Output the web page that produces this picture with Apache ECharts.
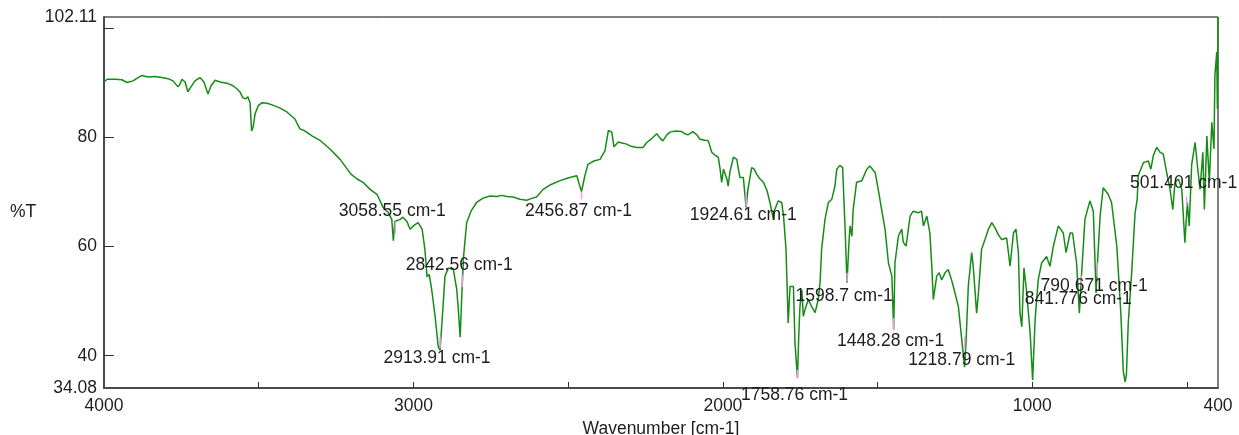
<!DOCTYPE html>
<html>
<head>
<meta charset="utf-8">
<title>IR spectrum</title>
<script src="https://cdn.jsdelivr.net/npm/echarts@6/dist/echarts.min.js"></script>
<style>
  html, body { margin: 0; padding: 0; background: #ffffff; }
  #chart { width: 1239px; height: 435px; }
</style>
</head>
<body>
<div id="chart"></div>
<script>
// Spectrum trace: wavenumber (cm-1) and transmittance (%T)
const wavenumbers = [
  4000, 3990, 3964, 3942, 3926, 3906, 3890, 3877, 3858, 3835, 3813, 3793, 3777, 3761, 3754, 3748,
  3738, 3729, 3719, 3706, 3690, 3677, 3664, 3654, 3641, 3625, 3599, 3583, 3570, 3560, 3551, 3541,
  3535, 3528, 3523, 3518, 3512, 3502, 3489, 3473, 3457, 3431, 3409, 3383, 3367, 3350, 3328, 3302,
  3270, 3237, 3202, 3182, 3163, 3140, 3118, 3098, 3082, 3070, 3065, 3060, 3043, 3034, 3021, 3011,
  2998, 2985, 2972, 2963, 2956, 2949, 2941, 2930, 2920, 2914, 2908, 2898, 2887, 2871, 2860, 2855,
  2849, 2843, 2838, 2828, 2814, 2796, 2775, 2753, 2730, 2715, 2698, 2678, 2656, 2634, 2620, 2602,
  2581, 2559, 2526, 2501, 2472, 2465, 2457, 2452, 2446, 2436, 2417, 2397, 2381, 2370, 2359, 2352,
  2338, 2326, 2311, 2297, 2279, 2258, 2246, 2232, 2214, 2203, 2194, 2181, 2171, 2152, 2133, 2122,
  2113, 2097, 2084, 2074, 2058, 2047, 2036, 2026, 2015, 2009, 2004, 1998, 1993, 1987, 1983, 1977,
  1966, 1955, 1951, 1945, 1934, 1925, 1919, 1907, 1899, 1891, 1880, 1869, 1857, 1848, 1837, 1832,
  1821, 1810, 1804, 1796, 1789, 1783, 1772, 1767, 1759, 1755, 1751, 1745, 1740, 1735, 1724, 1713,
  1702, 1692, 1686, 1681, 1670, 1659, 1648, 1638, 1632, 1622, 1613, 1609, 1605, 1599, 1592, 1589,
  1583, 1579, 1568, 1551, 1535, 1525, 1508, 1498, 1487, 1476, 1465, 1454, 1448, 1444, 1433, 1422,
  1417, 1408, 1395, 1385, 1369, 1358, 1352, 1341, 1331, 1325, 1320, 1309, 1301, 1293, 1282, 1272,
  1261, 1250, 1239, 1228, 1219, 1214, 1207, 1196, 1191, 1180, 1175, 1164, 1153, 1142, 1131, 1121,
  1110, 1099, 1094, 1083, 1072, 1061, 1053, 1045, 1040, 1034, 1027, 1018, 1007, 999, 991, 981,
  970, 954, 943, 932, 916, 900, 891, 878, 870, 857, 848, 842, 830, 814, 803, 794,
  790, 781, 771, 755, 744, 727, 714, 706, 700, 696, 690, 679, 668, 661, 658, 641,
  625, 617, 609, 598, 587, 577, 566, 555, 546, 539, 528, 517, 507, 499, 493, 485,
  474, 467, 458, 449, 444, 436, 428, 420, 413, 410, 404, 402, 400
];
const transmittance = [
  90.2, 90.7, 90.7, 90.6, 90.1, 90.4, 91.0, 91.4, 91.1, 91.2, 91.0, 90.8, 90.4, 89.3, 89.9, 90.7,
  90.2, 88.4, 89.3, 90.4, 91.0, 90.2, 88.0, 89.5, 90.5, 90.2, 89.9, 89.5, 88.9, 88.3, 87.3, 87.1,
  87.5, 86.4, 81.2, 81.9, 84.3, 85.8, 86.4, 86.3, 86.0, 85.4, 84.7, 83.4, 81.6, 81.2, 80.3, 79.5,
  77.9, 76.0, 73.3, 72.4, 71.8, 70.5, 69.6, 67.2, 66.3, 65.0, 61.1, 64.6, 65.0, 65.4, 64.6, 63.2,
  63.9, 64.4, 63.2, 59.5, 54.5, 54.9, 52.1, 47.2, 41.7, 41.0, 46.0, 54.6, 56.1, 55.8, 52.1, 48.4,
  43.4, 52.0, 58.2, 64.4, 66.5, 68.1, 68.9, 69.3, 69.2, 69.4, 69.2, 69.1, 68.7, 68.5, 68.8, 69.1,
  70.5, 71.3, 72.1, 72.6, 73.0, 71.6, 70.1, 71.4, 73.0, 75.1, 75.7, 76.0, 77.6, 81.3, 81.0, 78.3,
  79.2, 79.0, 78.8, 78.4, 78.2, 78.2, 79.1, 79.7, 80.7, 79.9, 79.4, 80.5, 81.0, 81.2, 81.1, 80.7,
  80.5, 81.1, 80.5, 79.7, 79.5, 79.4, 77.3, 76.8, 76.4, 74.2, 71.8, 74.2, 74.5, 72.4, 71.1, 73.8,
  76.4, 76.0, 74.6, 72.7, 72.7, 67.2, 70.5, 74.5, 74.2, 73.3, 72.4, 71.8, 70.2, 68.1, 65.0, 66.8,
  68.4, 68.1, 65.6, 59.5, 46.0, 52.7, 52.7, 42.3, 35.9, 43.4, 49.0, 52.1, 47.2, 48.4, 50.3, 49.0,
  47.9, 50.3, 53.4, 59.5, 65.0, 68.1, 68.7, 71.1, 74.2, 74.9, 74.5, 68.7, 63.2, 53.4, 61.3, 63.8,
  61.9, 66.8, 71.8, 72.1, 74.2, 74.8, 73.6, 70.5, 66.8, 63.2, 57.0, 54.6, 44.7, 57.0, 61.9, 63.2,
  60.8, 60.1, 65.6, 66.5, 66.2, 66.5, 63.8, 65.6, 62.5, 56.4, 50.3, 54.6, 55.2, 53.9, 55.2, 55.8,
  53.9, 51.5, 49.0, 42.9, 37.9, 42.9, 52.7, 58.9, 56.4, 47.8, 50.9, 59.5, 61.3, 63.2, 64.4, 63.5,
  62.2, 61.3, 61.0, 61.6, 56.4, 62.5, 63.2, 58.9, 47.8, 45.3, 56.1, 51.5, 44.1, 35.5, 46.6, 53.9,
  57.0, 58.2, 56.4, 60.1, 63.8, 62.5, 58.9, 62.5, 62.5, 57.0, 47.8, 53.9, 65.0, 68.4, 66.5, 51.5,
  56.5, 65.6, 70.8, 69.6, 68.1, 60.1, 47.8, 37.1, 35.2, 36.5, 46.0, 55.2, 66.2, 68.7, 73.0, 75.4,
  75.7, 74.2, 76.7, 78.2, 77.3, 77.0, 73.6, 70.5, 66.8, 71.8, 72.4, 70.5, 60.7, 68.1, 63.8, 75.1,
  79.1, 75.1, 70.5, 77.3, 66.8, 80.3, 71.8, 82.8, 77.9, 91.4, 95.7, 85.3, 102.1
];

// Picked peaks: wavenumber, and the %T span of each peak marker
const peakWavenumbers = [3058.55, 2913.91, 2842.56, 2456.87, 1924.61, 1758.76, 1598.7, 1448.28, 1218.79, 841.776, 790.671, 501.401];
const markerLow  = [62.4, 41.4, 52.6, 68.7, 67.4, 35.9, 53.6, 44.7, 41.4, 52.8, 54.5, 67.4];
const markerHigh = [64.6, 43.5, 54.9, 70.0, 70.0, 37.4, 55.2, 46.9, 43.5, 54.7, 57.1, 69.2];

// Axis range and tick positions
const xRange = [400, 4000];
const yRange = [34.08, 102.11];
const xTicks = [500, 1000, 1500, 2000, 2500, 3000, 3500];
const xTickLabels = [4000, 3000, 2000, 1000, 400];
const yTicks = [40, 60, 80, 100];
const yTickLabels = [34.08, 40, 60, 80, 102.11];

// Label placement (pixels from the marker's lower end), layout only
const labelDy = [-22, 10, -22, 12, 9, 17, 15, 11, 12, 13, 10, -23];

const FONT = 'Liberation Sans, Arial, sans-serif';
const FS = 17.5;
const TEXT = '#1e1e1e';

const spectrum = wavenumbers.map((w, i) => [w, transmittance[i]]);
const peaks = peakWavenumbers.map((w, i) => [w, markerLow[i], markerHigh[i]]);

const chart = echarts.init(document.getElementById('chart'), null, { renderer: 'canvas' });

chart.setOption({
  animation: false,
  backgroundColor: '#ffffff',
  grid: {
    left: 104, right: 21, top: 17, bottom: 47,
    outerBoundsMode: 'none', containLabel: false,
    show: true, borderColor: '#000000', borderWidth: 1, backgroundColor: 'transparent'
  },
  xAxis: {
    type: 'value', min: xRange[0], max: xRange[1], inverse: true,
    name: 'Wavenumber [cm-1]', nameLocation: 'middle', nameGap: 29,
    nameTextStyle: { color: TEXT, fontFamily: FONT, fontSize: FS },
    axisLine: { show: true, onZero: false, lineStyle: { color: '#4a4a4a', width: 2 } },
    axisTick: { show: true, inside: true, length: 6, customValues: xTicks, lineStyle: { color: '#333', width: 1 } },
    axisLabel: { customValues: xTickLabels, margin: 9, color: TEXT, fontFamily: FONT, fontSize: FS,
      formatter: v => String(v) },
    splitLine: { show: false }
  },
  yAxis: {
    type: 'value', min: yRange[0], max: yRange[1],
    axisLine: { show: true, onZero: false, lineStyle: { color: '#4a4a4a', width: 2 } },
    axisTick: { show: true, inside: true, length: 10, customValues: yTicks, lineStyle: { color: '#333', width: 1 } },
    axisLabel: { customValues: yTickLabels, margin: 7, color: TEXT, fontFamily: FONT, fontSize: FS,
      formatter: v => String(v) },
    splitLine: { show: false }
  },
  graphic: [
    { type: 'text', left: 10, top: 203, style: { text: '%T', fill: TEXT, font: FS + 'px ' + FONT } }
  ],
  series: [
    {
      type: 'line', data: spectrum, showSymbol: false, symbol: 'none',
      lineStyle: { color: '#168c16', width: 1.5 }, z: 2
    },
    {
      type: 'custom', coordinateSystem: 'cartesian2d', data: peaks, z: 3,
      renderItem: function (params, api) {
        const i = params.dataIndex;
        const w = api.value(0);
        const lo = api.coord([w, api.value(1)]);
        const hi = api.coord([w, api.value(2)]);
        return {
          type: 'group',
          children: [
            { type: 'line', shape: { x1: lo[0], y1: lo[1], x2: hi[0], y2: hi[1] },
              style: { stroke: '#f09af0', lineWidth: 1.5 } },
            { type: 'text', x: lo[0] - 3, y: lo[1] + labelDy[i],
              style: { text: peakWavenumbers[i] + ' cm-1', fill: TEXT, font: FS + 'px ' + FONT,
                       align: 'center', verticalAlign: 'middle' } }
          ]
        };
      }
    }
  ]
});
</script>
</body>
</html>
